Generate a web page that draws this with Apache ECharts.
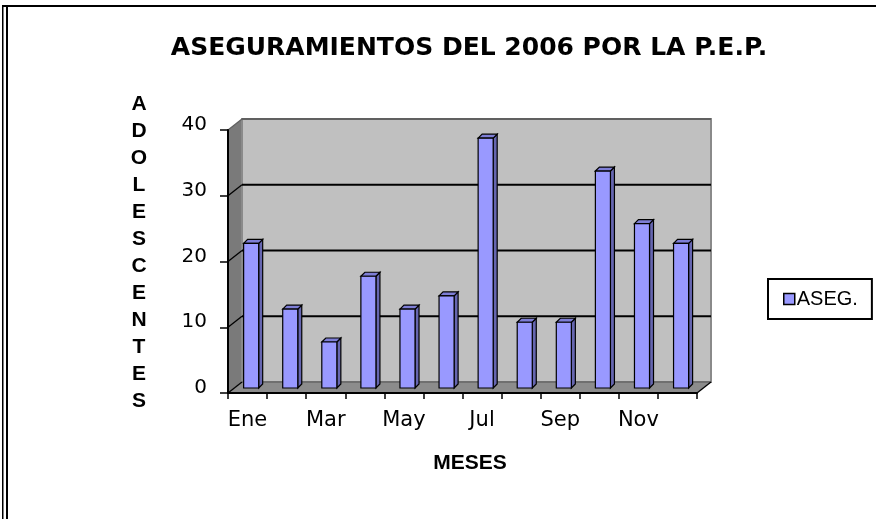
<!DOCTYPE html>
<html>
<head>
<meta charset="utf-8">
<script src="https://cdn.jsdelivr.net/npm/echarts@6/dist/echarts.min.js"></script>
<style>
html,body{margin:0;padding:0;background:#fff;}
#chart{width:876px;height:519px;}
</style>
</head>
<body>
<div id="chart"></div>
<script>
var months = ['Ene','Feb','Mar','Abr','May','Jun','Jul','Ago','Sep','Oct','Nov','Dic'];
var aseg = [22, 12, 7, 17, 12, 14, 38, 10, 10, 33, 25, 22];
var yTicks = [0, 10, 20, 30, 40];
var seriesName = 'ASEG.';
var titleText = 'ASEGURAMIENTOS DEL 2006 POR LA P.E.P.';
var yName = 'ADOLESCENTES';
var xName = 'MESES';

var DX = 14, DY = -11;

var chart = echarts.init(document.getElementById('chart'), null, {renderer:'canvas'});

function frameItem(params, api) {
  var cs = params.coordSys;
  var L = cs.x, R = cs.x + cs.width, T = cs.y, B = cs.y + cs.height;
  var ch = [];
  ch.push({type:'polygon', shape:{points:[[L,B],[L+DX,B+DY],[L+DX,T+DY],[L,T]]}, style:{fill:'#7a7a7a', stroke:null}});
  ch.push({type:'polygon', shape:{points:[[L,B],[R,B],[R+DX,B+DY],[L+DX,B+DY]]}, style:{fill:'#8c8c8c', stroke:null}});
  ch.push({type:'rect', shape:{x:L+DX, y:T+DY, width:cs.width, height:cs.height}, style:{fill:'#c0c0c0', stroke:'#8a8a8a', lineWidth:2}});
  for (var k = 0; k < yTicks.length; k++) {
    var v = yTicks[k];
    var y = api.coord([0, v])[1];
    var col = (v === 0) ? '#555' : (v === yTicks[yTicks.length-1] ? '#606060' : '#000');
    var lw = (v === 0) ? 1 : 2;
    ch.push({type:'line', shape:{x1:L+DX, y1:y+DY, x2:R+DX, y2:y+DY}, style:{stroke:col, lineWidth:lw}});
    ch.push({type:'line', shape:{x1:L, y1:y, x2:L+DX, y2:y+DY}, style:{stroke:(v===yTicks[yTicks.length-1])?'#606060':'#000', lineWidth:1.3}});
  }
  ch.push({type:'line', shape:{x1:R, y1:B, x2:R+DX, y2:B+DY}, style:{stroke:'#000', lineWidth:1.3}});
  return {type:'group', children:ch};
}

function barItem(params, api) {
  var i = api.value(0), v = api.value(1);
  var base = api.coord([i, 0]);
  var top = api.coord([i, v]);
  var bw = api.size([1, 0])[0];
  var w = bw * 0.385;
  var x0 = base[0] - bw * 0.1;
  var x1 = x0 + w;
  var yb = base[1] - 5, yt = top[1] - 5;
  var d = 4;
  var st = {stroke:'#000', lineWidth:1.2};
  return {type:'group', children:[
    {type:'polygon', shape:{points:[[x1,yb],[x1+d,yb-d],[x1+d,yt-d],[x1,yt]]}, style:Object.assign({fill:'#6666b0'}, st)},
    {type:'polygon', shape:{points:[[x0,yt],[x0+d,yt-d],[x1+d,yt-d],[x1,yt]]}, style:Object.assign({fill:'#7e7ed6'}, st)},
    {type:'rect', shape:{x:x0, y:yt, width:w, height:yb-yt}, style:Object.assign({fill:'#9999ff'}, st)}
  ]};
}

var barData = aseg.map(function(v, i){ return [i, v]; });

var option = {
  animation: false,
  backgroundColor: '#fff',
  title: {
    text: titleText,
    left: 464, top: 31, textAlign: 'center',
    textStyle: {fontFamily:'DejaVu Sans', fontWeight:'bold', fontSize:25, color:'#000'}
  },
  legend: {
    data: [{name: seriesName, icon: 'rect'}],
    left: 768, top: 279,
    orient: 'vertical',
    padding: [10, 14, 10, 15],
    borderColor: '#000', borderWidth: 2,
    backgroundColor: '#fff',
    itemWidth: 11, itemHeight: 11,
    itemStyle: {color:'#9999ff', borderColor:'#000', borderWidth:1.5},
    textStyle: {fontFamily:'Liberation Sans', fontSize:20, color:'#000', padding:[0,0,0,-3]}
  },
  grid: {left: 228, right: 179, top: 130, bottom: 126, containLabel: false},
  xAxis: {
    type: 'category',
    data: months,
    boundaryGap: true,
    z: 5,
    axisLine: {lineStyle:{color:'#000', width:2}},
    axisTick: {show:true, interval:0, length:6, lineStyle:{color:'#000', width:1.5}},
    axisLabel: {interval:1, margin:17, fontFamily:'DejaVu Sans', fontSize:21, color:'#000'},
    splitLine: {show:false}
  },
  yAxis: {
    type: 'value',
    min: 0, max: 40, interval: 10,
    z: 5,
    axisLine: {show:true, lineStyle:{color:'#000', width:2}},
    axisTick: {show:true, length:8, lineStyle:{color:'#000', width:1.5}},
    axisLabel: {margin:21, fontFamily:'DejaVu Sans', fontSize:20, color:'#000', verticalAlign:'bottom', lineHeight:10},
    splitLine: {show:false}
  },
  graphic: [
    {type:'text', x:139, y:253, silent:true,
      style:{text: yName.split('').join('\n'), textAlign:'center', textVerticalAlign:'middle',
        font:'bold 21px "Liberation Sans"', fill:'#000', lineHeight:27}},
    {type:'text', x:470, y:463, silent:true,
      style:{text: xName, textAlign:'center', textVerticalAlign:'middle', font:'bold 21px "Liberation Sans"', fill:'#000'}},
    {type:'rect', shape:{x:2, y:5, width:874, height:2}, style:{fill:'#000'}, silent:true},
    {type:'rect', shape:{x:2, y:5, width:1.5, height:514}, style:{fill:'#000'}, silent:true},
    {type:'rect', shape:{x:6, y:5, width:2, height:514}, style:{fill:'#000'}, silent:true}
  ],
  series: [
    {type:'custom', name:'frame', silent:true, z:1, data:[[0, 0]], renderItem: frameItem, tooltip:{show:false}},
    {type:'custom', name: seriesName, z:3, data: barData, renderItem: barItem,
      itemStyle:{color:'#9999ff', borderColor:'#000', borderWidth:1.5},
      encode:{x:0, y:1}}
  ]
};
chart.setOption(option);
</script>
</body>
</html>
